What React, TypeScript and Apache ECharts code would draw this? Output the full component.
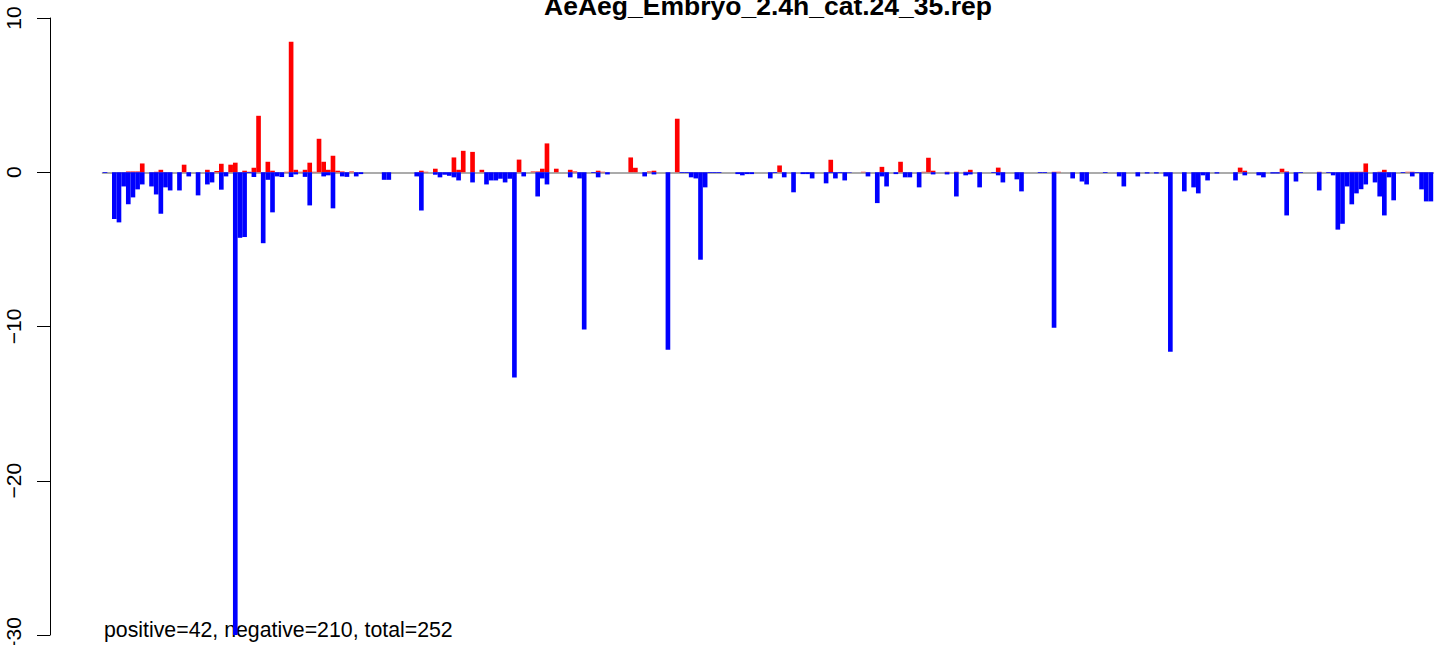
import React, { useEffect, useRef } from "react";
import * as echarts from "echarts";

const TITLE = "AeAeg_Embryo_2.4h_cat.24_35.rep";
const SUMMARY = "positive=42, negative=210, total=252";
const Y_MIN = -30;
const Y_MAX = 10;
const Y_STEP = 10;

// upward (red) component per category
const positiveValues = [
  0, 0, 0, 0, 0, 0.05, 0.05, 0.05, 0.57, 0,
  0, 0.03, 0.16, 0, 0, 0, 0, 0.49, 0, 0,
  0, 0, 0.16, 0, 0.08, 0.55, 0, 0.49, 0.62, 0,
  0.1, 0.03, 0.29, 3.66, 0, 0.68, 0.1, 0, 0, 0.03,
  8.46, 0.16, 0.03, 0.16, 0.62, 0.03, 2.17, 0.68, 0.16, 1.07,
  0.1, 0.05, 0, 0.05, 0, 0, 0, 0, 0, 0,
  0, 0, 0, 0, 0, 0, 0, 0, 0.1, 0.03,
  0, 0.23, 0, 0, 0, 0.96, 0.16, 1.39, 0, 1.32,
  0, 0.16, 0, 0, 0, 0, 0, 0, 0, 0.82,
  0, 0, 0.05, 0.05, 0.23, 1.87, 0, 0.23, 0, 0,
  0.16, 0.05, 0, 0, 0, 0, 0.1, 0.03, 0, 0,
  0, 0, 0, 0.96, 0.29, 0, 0, 0.05, 0.1, 0,
  0, 0, 0, 3.47, 0, 0, 0, 0, 0, 0,
  0, 0, 0, 0, 0, 0, 0, 0, 0, 0,
  0, 0, 0, 0, 0, 0.44, 0, 0, 0, 0,
  0, 0, 0, 0, 0, 0, 0.81, 0, 0, 0,
  0, 0, 0, 0.03, 0, 0, 0, 0.35, 0, 0,
  0, 0.68, 0, 0, 0, 0, 0.03, 0.94, 0.1, 0,
  0, 0.03, 0, 0.03, 0, 0.03, 0.16, 0, 0, 0,
  0, 0, 0.3, 0, 0, 0, 0, 0, 0, 0,
  0, 0, 0, 0, 0.03, 0.03, 0, 0, 0, 0,
  0, 0, 0, 0, 0, 0, 0, 0, 0, 0,
  0, 0, 0, 0, 0, 0, 0, 0, 0, 0,
  0, 0, 0, 0, 0, 0, 0, 0, 0, 0,
  0, 0, 0, 0, 0.3, 0.1, 0, 0, 0, 0,
  0, 0, 0, 0.23, 0.05, 0, 0, 0, 0, 0,
  0, 0.03, 0, 0, 0, 0, 0, 0, 0.03, 0.03,
  0.03, 0.57, 0, 0, 0.03, 0.16, 0, 0, 0, 0,
  0.03, 0.03, 0, 0, 0, 0,
];

// downward (blue) component per category
const negativeValues = [
  -0.05, 0, -3.03, -3.25, -0.92, -2.08, -1.63, -1.11, -0.79, 0,
  -0.92, -1.44, -2.69, -0.98, -1.18, 0, -1.18, 0, -0.27, 0,
  -1.5, 0, -0.79, -0.66, 0, -1.13, -0.27, 0, -30, -4.25,
  -4.2, -0.05, -0.31, 0, -4.6, -0.49, -2.6, -0.27, -0.31, 0,
  -0.31, -0.14, 0, -0.3, -2.15, 0, 0, -0.27, -0.2, -2.34,
  0, -0.27, -0.3, 0, -0.27, -0.12, 0, 0, 0, 0,
  -0.49, -0.49, 0, 0, 0, 0, 0, -0.27, -2.48, 0,
  0, -0.16, -0.33, -0.16, -0.23, -0.33, -0.53, 0, 0, -0.66,
  0, 0, -0.79, -0.53, -0.53, -0.42, -0.66, -0.42, -13.3, 0,
  -0.27, 0, 0, -1.57, -0.4, -0.79, 0, 0, 0, 0,
  -0.33, 0, -0.4, -10.2, 0, -0.05, -0.33, 0, -0.14, 0,
  0, 0, 0, 0, 0, 0, -0.27, 0, -0.14, 0,
  0, -11.5, 0, 0, -0.05, -0.05, -0.33, -0.4, -5.67, -0.98,
  -0.05, -0.05, -0.05, 0, 0, 0, -0.12, -0.2, -0.12, -0.12,
  0, 0, 0, -0.4, -0.05, 0, -0.33, 0, -1.3, 0,
  -0.12, -0.12, -0.4, 0, 0, -0.72, -0.05, -0.4, -0.05, -0.53,
  -0.03, 0, 0, 0, -0.27, 0, -2.0, -0.27, -0.92, 0,
  -0.12, 0, -0.33, -0.33, 0, -0.98, 0, 0, -0.14, 0,
  0, -0.14, 0, -1.57, 0, -0.2, -0.14, 0, -0.98, 0,
  0, -0.05, -0.2, -0.66, 0, 0, -0.46, -1.24, 0, 0,
  0, -0.05, -0.05, 0, -10.08, 0, 0, 0, -0.4, 0,
  -0.6, -0.79, 0, 0, 0, -0.05, 0, 0, -0.27, -0.92,
  0, 0, -0.27, 0, -0.08, 0, -0.08, 0, -0.27, -11.63,
  0, 0, -1.24, 0, -0.98, -1.37, -0.2, -0.53, 0, -0.08,
  0, 0, 0, -0.53, 0, -0.2, 0, 0, -0.2, -0.33,
  0, -0.08, -0.08, 0, -2.8, 0, -0.6, -0.05, 0, 0,
  0, -1.18, 0, -0.05, -0.2, -3.72, -3.34, -0.92, -2.08, -1.37,
  -1.1, -0.79, 0, -0.66, -1.57, -2.8, -0.33, -1.82, 0, -0.05,
  0, -0.27, -0.05, -1.11, -1.89, -1.89,
];

const categories = positiveValues.map((_, i) => String(i + 1));

const FONT = "'Liberation Sans', Arial, Helvetica, sans-serif";

export default function App() {
  const ref = useRef<HTMLDivElement | null>(null);

  useEffect(() => {
    if (!ref.current) return;
    const chart = echarts.init(ref.current, undefined, { renderer: "svg" });
    const option: any = {
      animation: false,
      backgroundColor: "#ffffff",
      grid: {
        left: 102.7,
        right: 2.8,
        top: 18,
        bottom: 10,
        containLabel: false,
        outerBoundsMode: "none",
      },
      xAxis: {
        type: "category",
        data: categories,
        boundaryGap: true,
        axisLine: { show: true, onZero: true, lineStyle: { color: "#ababab", width: 2 } },
        axisTick: { show: false },
        axisLabel: { show: false },
        splitLine: { show: false },
      },
      yAxis: {
        type: "value",
        min: Y_MIN,
        max: Y_MAX,
        interval: Y_STEP,
        offset: 52.7,
        axisLine: { show: true, lineStyle: { color: "#000000", width: 1 } },
        axisTick: { show: true, inside: false, length: 13, lineStyle: { color: "#000000", width: 1 } },
        axisLabel: {
          show: true,
          rotate: 90,
          margin: 26,
          fontSize: 21,
          fontFamily: FONT,
          color: "#000000",
          showMinLabel: true,
          showMaxLabel: true,
          formatter: (v: number) => (v < 0 ? "\u2212" + Math.abs(v) : String(v)),
        },
        splitLine: { show: false },
      },
      series: [
        {
          name: "positive",
          type: "bar",
          data: positiveValues,
          barGap: "-100%",
          barCategoryGap: "0%",
          itemStyle: { color: "#FF0000" },
          z: 3,
        },
        {
          name: "negative",
          type: "bar",
          data: negativeValues,
          barGap: "-100%",
          barCategoryGap: "0%",
          itemStyle: { color: "#0000FF" },
          z: 3,
        },
      ],
      graphic: [
        {
          type: "text",
          x: 768,
          y: 6,
          style: {
            text: TITLE,
            font: `bold 26.5px ${FONT}`,
            fill: "#000000",
            align: "center",
            verticalAlign: "middle",
          },
        },
        {
          type: "text",
          x: 104,
          y: 630,
          style: {
            text: SUMMARY,
            font: `21.3px ${FONT}`,
            fill: "#000000",
            align: "left",
            verticalAlign: "middle",
          },
        },
      ],
    };
    chart.setOption(option);
    return () => {
      chart.dispose();
    };
  }, []);

  return (
    <div
      ref={ref}
      style={{ position: "fixed", left: 0, top: 0, width: 1436, height: 645, background: "#fff" }}
    />
  );
}
